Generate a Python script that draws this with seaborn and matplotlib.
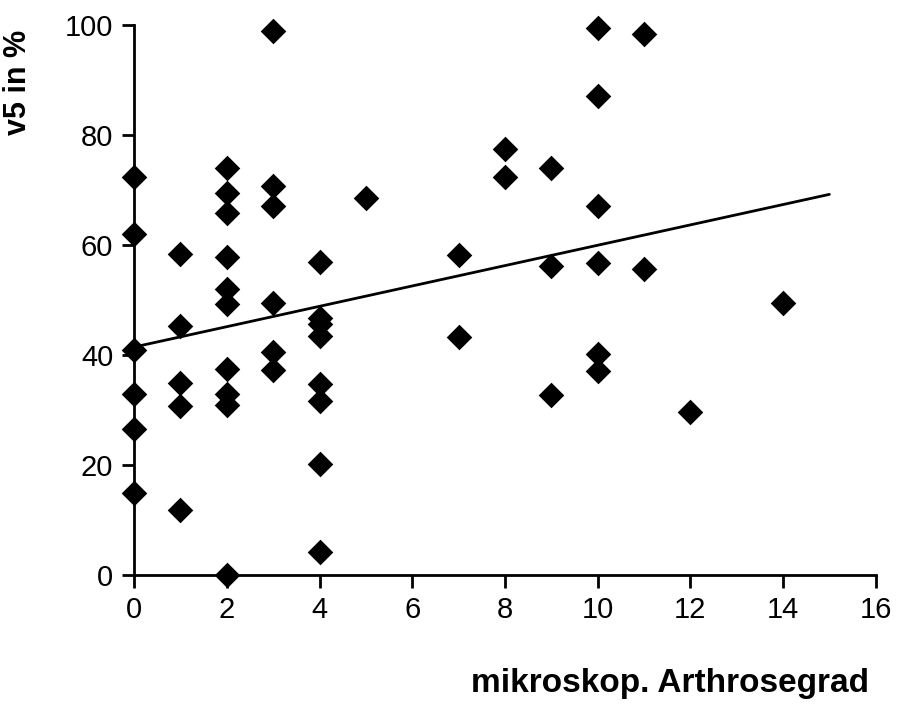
import matplotlib
matplotlib.use("Agg")
import matplotlib.pyplot as plt
import numpy as np
import pandas as pd
import seaborn as sns

# values
grad = [0, 0, 0, 0, 0, 0,
        1, 1, 1, 1, 1,
        2, 2, 2, 2, 2, 2, 2, 2, 2, 2,
        3, 3, 3, 3, 3, 3,
        4, 4, 4, 4, 4, 4, 4, 4,
        5,
        7, 7,
        8, 8,
        9, 9, 9,
        10, 10, 10, 10, 10, 10,
        11, 11,
        12,
        14]
v5 = [72.5, 62, 41, 33, 26.5, 15,
      58.4, 45.3, 34.9, 30.7, 11.8,
      74, 69.5, 65.8, 57.8, 52, 49.3, 37.5, 33, 31, 0,
      99, 70.7, 67.1, 49.5, 40.5, 37.3,
      57, 46.7, 45.6, 43.5, 34.7, 31.6, 20.2, 4.2,
      68.6,
      58.2, 43.3,
      77.6, 72.4,
      74, 56.2, 32.7,
      99.6, 87.1, 67.1, 56.7, 40.2, 37.1,
      98.5, 55.6,
      29.6,
      49.5]
trend_x = [0, 15]

sns.set_style("white")
plt.rcParams['font.family'] = ['Liberation Sans', 'DejaVu Sans']

df = pd.DataFrame({"grad": grad, "v5": v5})

fig, ax = plt.subplots(figsize=(9, 7.04), dpi=100)
fig.subplots_adjust(left=0.149, right=0.973, bottom=0.183, top=0.964)

sns.scatterplot(data=df, x="grad", y="v5", marker="D", color="black",
                s=170, edgecolor="black", linewidth=0, ax=ax, zorder=3,
                clip_on=False)

# linear trend line over 0..15, fitted from the points
slope, icept = np.polyfit(df["grad"], df["v5"], 1)
line_df = pd.DataFrame({"grad": trend_x,
                        "v5": [icept + slope * t for t in trend_x]})
sns.lineplot(data=line_df, x="grad", y="v5", color="black", linewidth=2, ax=ax)

ax.set_xlim(0, 16)
ax.set_ylim(0, 100)
ax.set_xticks(range(0, 17, 2))
ax.set_yticks(range(0, 101, 20))
sns.despine(ax=ax)
for sp in ["left", "bottom"]:
    ax.spines[sp].set_linewidth(2)
    ax.spines[sp].set_color("black")
ax.tick_params(direction="out", length=9, width=2, colors="black",
               labelsize=21, pad=6, left=True, bottom=True)

ax.set_xlabel("mikroskop. Arthrosegrad", fontsize=24, fontweight="bold",
              color="black")
ax.set_ylabel("v5 in %", fontsize=22, fontweight="bold", color="black")
ax.xaxis.set_label_coords(0.722, -0.168)
ax.yaxis.set_label_coords(-0.137, 0.896)

fig.savefig("out.png", dpi=100)
